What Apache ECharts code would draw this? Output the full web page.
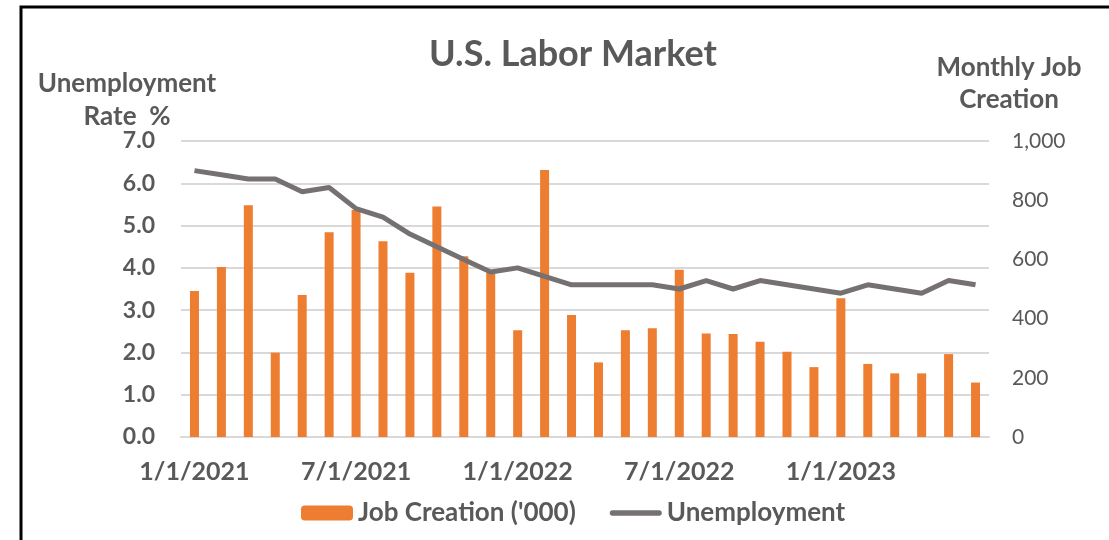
<!DOCTYPE html>
<html>
<head>
<meta charset="utf-8">
<script src="https://cdn.jsdelivr.net/npm/echarts@6/dist/echarts.min.js"></script>
<style>
  html, body { margin: 0; padding: 0; background: #fff; }
  #chart { width: 1109px; height: 540px; }
</style>
</head>
<body>
<div id="chart"></div>
<script>
const months = [
  '1/1/2021', '2/1/2021', '3/1/2021', '4/1/2021', '5/1/2021', '6/1/2021',
  '7/1/2021', '8/1/2021', '9/1/2021', '10/1/2021', '11/1/2021', '12/1/2021',
  '1/1/2022', '2/1/2022', '3/1/2022', '4/1/2022', '5/1/2022', '6/1/2022',
  '7/1/2022', '8/1/2022', '9/1/2022', '10/1/2022', '11/1/2022', '12/1/2022',
  '1/1/2023', '2/1/2023', '3/1/2023', '4/1/2023', '5/1/2023', '6/1/2023'
]

// monthly job creation, thousands
const jobCreation = [
  493, 574, 783, 285, 480, 692, 767, 661, 555, 779, 611, 554,
  361, 902, 412, 252, 361, 367, 565, 350, 348, 322, 288, 236,
  469, 247, 215, 215, 280, 184
]

// unemployment rate, %
const unemployment = [
  6.3, 6.2, 6.1, 6.1, 5.8, 5.9, 5.4, 5.2, 4.8, 4.5, 4.2, 3.9,
  4.0, 3.8, 3.6, 3.6, 3.6, 3.6, 3.5, 3.7, 3.5, 3.7, 3.6, 3.5,
  3.4, 3.6, 3.5, 3.4, 3.7, 3.6
]

const textColor = '#595959'
const gridColor = '#d9d9d9'
const lineColor = '#767171'
const font = 'Lato'

const chart = echarts.init(document.getElementById('chart'), null, { renderer: 'canvas' })

chart.setOption({
  animation: false,
  title: {
    text: 'U.S. Labor Market',
    left: 424,
    top: 31,
    textStyle: { fontFamily: font, fontSize: 36, fontWeight: 'bold', color: textColor }
  },
  grid: { left: 181, right: 120, top: 141, bottom: 103 },
  legend: {
    bottom: 9,
    left: 296,
    itemWidth: 52,
    itemHeight: 15,
    itemGap: 34,
    textStyle: { fontFamily: font, fontSize: 26, fontWeight: 'bold', color: textColor },
    data: [
      { name: "Job Creation ('000)" },
      {
        name: 'Unemployment',
        icon: 'path://M2.5,0 L45.5,0 A2.5,2.5 0 0 1 45.5,5 L2.5,5 A2.5,2.5 0 0 1 2.5,0 Z',
        itemStyle: { color: lineColor, borderWidth: 0 }
      }
    ]
  },
  xAxis: {
    type: 'category',
    data: months,
    axisLine: { lineStyle: { color: gridColor, width: 2 } },
    axisTick: { interval: 5, length: 8, lineStyle: { color: gridColor, width: 2 } },
    axisLabel: {
      interval: 5,
      margin: 22,
      fontFamily: font,
      fontSize: 25,
      fontWeight: 'bold',
      color: textColor
    }
  },
  yAxis: [
    {
      type: 'value',
      min: 0,
      max: 7,
      interval: 1,
      axisLine: { show: false },
      axisTick: { show: false },
      splitLine: { lineStyle: { color: gridColor, width: 2 } },
      axisLabel: {
        margin: 26,
        formatter: v => v.toFixed(1),
        fontFamily: font,
        fontSize: 23,
        fontWeight: 'bold',
        color: textColor
      }
    },
    {
      type: 'value',
      min: 0,
      max: 1000,
      interval: 200,
      axisLine: { show: false },
      axisTick: { show: false },
      splitLine: { show: false },
      axisLabel: {
        margin: 23,
        formatter: v => v.toLocaleString('en-US'),
        fontFamily: font,
        fontSize: 21,
        color: textColor
      }
    }
  ],
  graphic: [
    {
      type: 'rect',
      shape: { x: 21, y: 7, width: 1200, height: 600 },
      style: { fill: 'none', stroke: '#000', lineWidth: 3 },
      silent: true
    },
    {
      type: 'text',
      x: 127,
      y: 100,
      style: {
        text: 'Unemployment\nRate  %',
        align: 'center',
        verticalAlign: 'middle',
        lineHeight: 33,
        font: 'bold 26px Lato',
        fill: textColor
      }
    },
    {
      type: 'text',
      x: 1009,
      y: 84,
      style: {
        text: 'Monthly Job\nCreation',
        align: 'center',
        verticalAlign: 'middle',
        lineHeight: 32,
        font: 'bold 26px Lato',
        fill: textColor
      }
    }
  ],
  series: [
    {
      name: "Job Creation ('000)",
      type: 'bar',
      yAxisIndex: 1,
      barWidth: 9,
      itemStyle: { color: '#ED7D31' },
      data: jobCreation
    },
    {
      name: 'Unemployment',
      type: 'line',
      yAxisIndex: 0,
      symbol: 'none',
      lineStyle: { color: lineColor, width: 5 },
      itemStyle: { color: lineColor },
      data: unemployment
    }
  ]
})
</script>
</body>
</html>
